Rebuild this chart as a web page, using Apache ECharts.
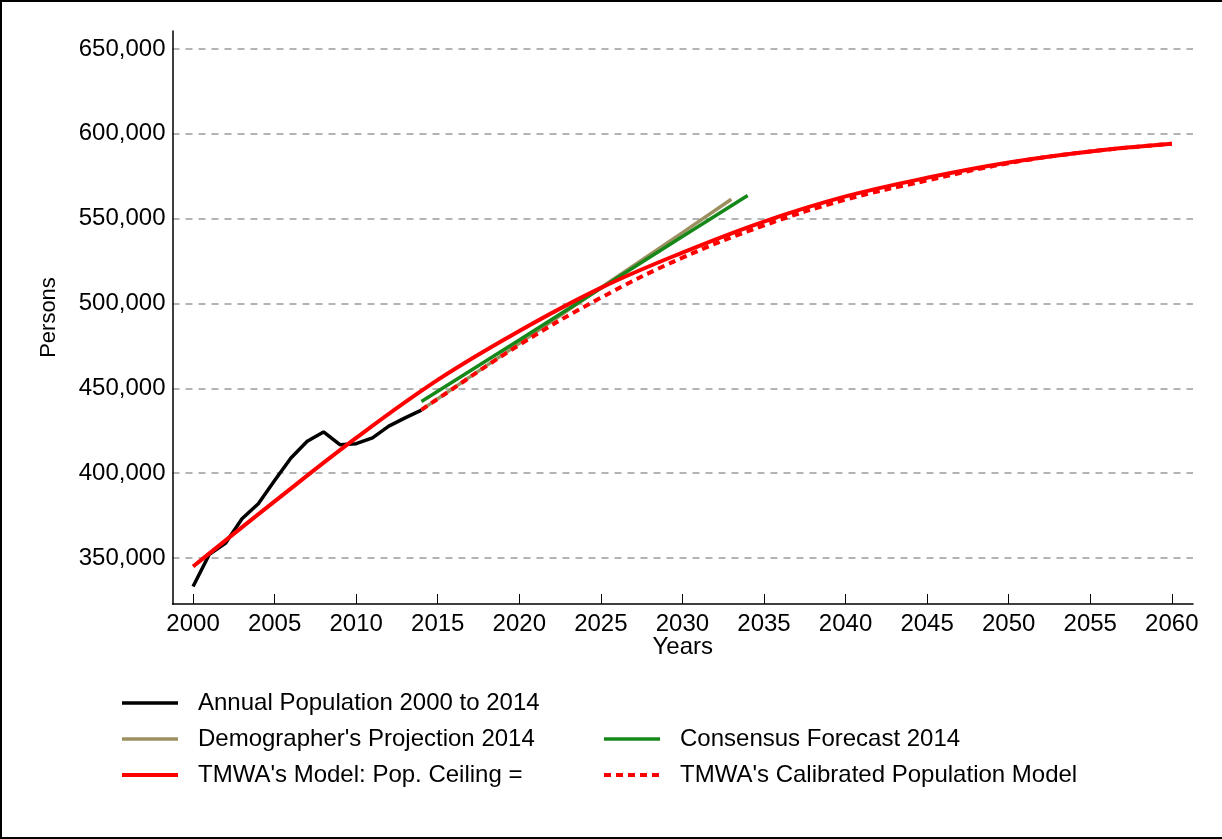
<!DOCTYPE html>
<html>
<head>
<meta charset="utf-8">
<script src="https://cdn.jsdelivr.net/npm/echarts@6/dist/echarts.min.js"></script>
<style>
html,body{margin:0;padding:0;background:#fff;}
#c{width:1222px;height:839px;}
</style>
</head>
<body>
<div id="c"></div>
<script>
// ---- Data ----
const xTicks = [2000, 2005, 2010, 2015, 2020, 2025, 2030, 2035, 2040, 2045, 2050, 2055, 2060];
const yTicks = [350000, 400000, 450000, 500000, 550000, 600000, 650000];

const annualYears = [2000, 2001, 2002, 2003, 2004, 2005, 2006, 2007, 2008, 2009, 2010, 2011, 2012, 2013, 2014];
const annualPop   = [333200, 352200, 358800, 373100, 382000, 395700, 408900, 418800, 424300, 416800, 417400, 420800, 427700, 432600, 437200];

const demoYears = [2014, 2020, 2025, 2030, 2033];
const demoPop   = [437300, 476500, 509300, 541800, 561400];

const consYears = [2014, 2020, 2025, 2030, 2034];
const consPop   = [442200, 478500, 509000, 539500, 563700];

const modelYears = [2000, 2005, 2010, 2015, 2020, 2025, 2030, 2035, 2040, 2045, 2050, 2055, 2060];
const modelPop   = [345000, 383400, 420800, 455000, 483800, 509200, 530000, 548300, 563100, 574100, 583100, 589600, 594100];

const calYears = [2014, 2015, 2020, 2025, 2030, 2035, 2040, 2045, 2050, 2055, 2060];
const calPop   = [437300, 443800, 475600, 503400, 527000, 546000, 561200, 572500, 582700, 589600, 594100];

const seriesNames = [
  'Annual Population 2000 to 2014',
  "Demographer's Projection 2014",
  'Consensus Forecast 2014',
  "TMWA's Model: Pop. Ceiling =",
  "TMWA's Calibrated Population Model"
];

// ---- Chart ----
const FONT = 'Liberation Sans';
function pairs(xs, ys) { return xs.map((x, i) => [x, ys[i]]); }
function fmt(v) { return String(v).replace(/\B(?=(\d{3})+(?!\d))/g, ','); }

const chart = echarts.init(document.getElementById('c'), null, { renderer: 'canvas' });

const legendCommon = {
  orient: 'vertical',
  padding: 0,
  itemWidth: 56, itemHeight: 2, itemGap: 10,
  lineStyle: { width: 'inherit' },
  itemStyle: { opacity: 0 },
  textStyle: { fontFamily: FONT, fontSize: 24, color: '#000', lineHeight: 26, padding: [0, 0, 0, 15] }
};

const option = {
  animation: false,
  backgroundColor: '#ffffff',
  grid: { left: 172.5, right: 29, top: 31, bottom: 235, containLabel: false },
  xAxis: {
    type: 'value',
    min: 1998.74,
    max: 2061.3,
    name: 'Years',
    nameLocation: 'middle',
    nameGap: 31,
    nameMoveOverlap: false,
    nameTextStyle: { fontFamily: FONT, fontSize: 24, color: '#000' },
    axisLine: { show: true, onZero: false, lineStyle: { color: '#000', width: 1.5 } },
    axisTick: { show: true, inside: true, length: 10, customValues: xTicks, lineStyle: { color: '#000', width: 1 } },
    axisLabel: { customValues: xTicks, fontFamily: FONT, fontSize: 24, color: '#000', margin: 8,
                 formatter: v => String(v) },
    splitLine: { show: false }
  },
  yAxis: {
    type: 'value',
    min: 322900,
    max: 660600,
    splitNumber: 7,
    minInterval: 50000,
    maxInterval: 50000,
    name: 'Persons',
    nameLocation: 'middle',
    nameGap: 113,
    nameRotate: 90,
    nameTextStyle: { fontFamily: FONT, fontSize: 22, color: '#000' },
    axisLine: { show: true, onZero: false, lineStyle: { color: '#000', width: 1.5 } },
    axisTick: { show: false },
    axisLabel: { fontFamily: FONT, fontSize: 24, color: '#000', margin: 7,
                 formatter: v => (yTicks.indexOf(v) >= 0 ? fmt(v) : '') },
    splitLine: { show: true, showMinLine: false, showMaxLine: false,
                 lineStyle: { color: '#9a9a9a', width: 1.5, type: [7, 6] } }
  },
  legend: [
    Object.assign({}, legendCommon, {
      left: 120, top: 690,
      data: [seriesNames[0], seriesNames[1], seriesNames[3]]
    }),
    Object.assign({}, legendCommon, {
      left: 602, top: 726,
      data: [seriesNames[2], seriesNames[4]]
    })
  ],
  series: [
    { name: seriesNames[0], type: 'line', data: pairs(annualYears, annualPop), symbol: 'none',
      lineStyle: { color: '#000000', width: 3.5 }, itemStyle: { color: '#000000' } },
    { name: seriesNames[1], type: 'line', data: pairs(demoYears, demoPop), symbol: 'none',
      lineStyle: { color: '#9c9060', width: 3.5 }, itemStyle: { color: '#9c9060' } },
    { name: seriesNames[2], type: 'line', data: pairs(consYears, consPop), symbol: 'none',
      lineStyle: { color: '#16881a', width: 3.5 }, itemStyle: { color: '#16881a' } },
    { name: seriesNames[3], type: 'line', data: pairs(modelYears, modelPop), symbol: 'none', smooth: 0.4,
      lineStyle: { color: '#ff0000', width: 4 }, itemStyle: { color: '#ff0000' } },
    { name: seriesNames[4], type: 'line', data: pairs(calYears, calPop), symbol: 'none', smooth: 0.4,
      lineStyle: { color: '#ff0000', width: 4, type: [7, 5] }, itemStyle: { color: '#ff0000' } }
  ],
  graphic: [
    { type: 'rect', shape: { x: 0, y: 0, width: 2, height: 839 }, style: { fill: '#000' } },
    { type: 'rect', shape: { x: 0, y: 0, width: 1222, height: 2 }, style: { fill: '#000' } },
    { type: 'rect', shape: { x: 0, y: 837, width: 1222, height: 2 }, style: { fill: '#000' } }
  ]
};
chart.setOption(option);
</script>
</body>
</html>
